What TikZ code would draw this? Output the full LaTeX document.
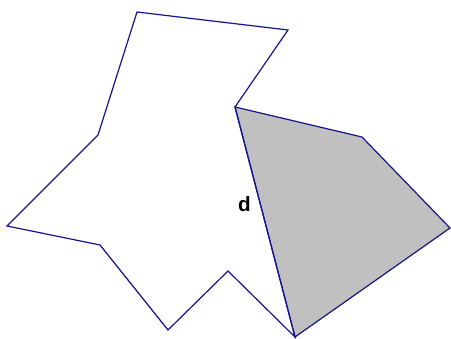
\documentclass[tikz,border=0pt]{standalone}
\usepackage{fontspec}
\setsansfont{Liberation Sans}
\begin{document}
\begin{tikzpicture}[x=0.75pt,y=-0.75pt,
  edge/.style={draw={rgb,255:red,20;green,20;blue,140},line width=0.9pt,line join=miter},
  part/.style={edge,fill={rgb,255:red,192;green,192;blue,192}},
  lbl/.style={font=\sffamily\bfseries\fontsize{15.5}{18}\selectfont,inner sep=0pt}]
\useasboundingbox (0,0) rectangle (451,339);
% corners of the polygon
\coordinate (p1) at (137,12);  \coordinate (p2) at (288,30);
\coordinate (p3) at (235,107); \coordinate (p4) at (295,337);
\coordinate (p5) at (228,271); \coordinate (p6) at (168,330);
\coordinate (p7) at (100,245); \coordinate (p8) at (7,226);
\coordinate (p9) at (98,135);
\coordinate (q1) at (362,137); \coordinate (q2) at (450,228);
\filldraw[part] (p3) -- (q1) -- (q2) -- (p4) -- cycle;
\draw[edge] (p1) -- (p2) -- (p3) -- (p4) -- (p5) -- (p6) -- (p7) -- (p8) -- (p9) -- cycle;
\node[lbl] (d) at (244.5,204.5) {d};
\end{tikzpicture}
\end{document}
